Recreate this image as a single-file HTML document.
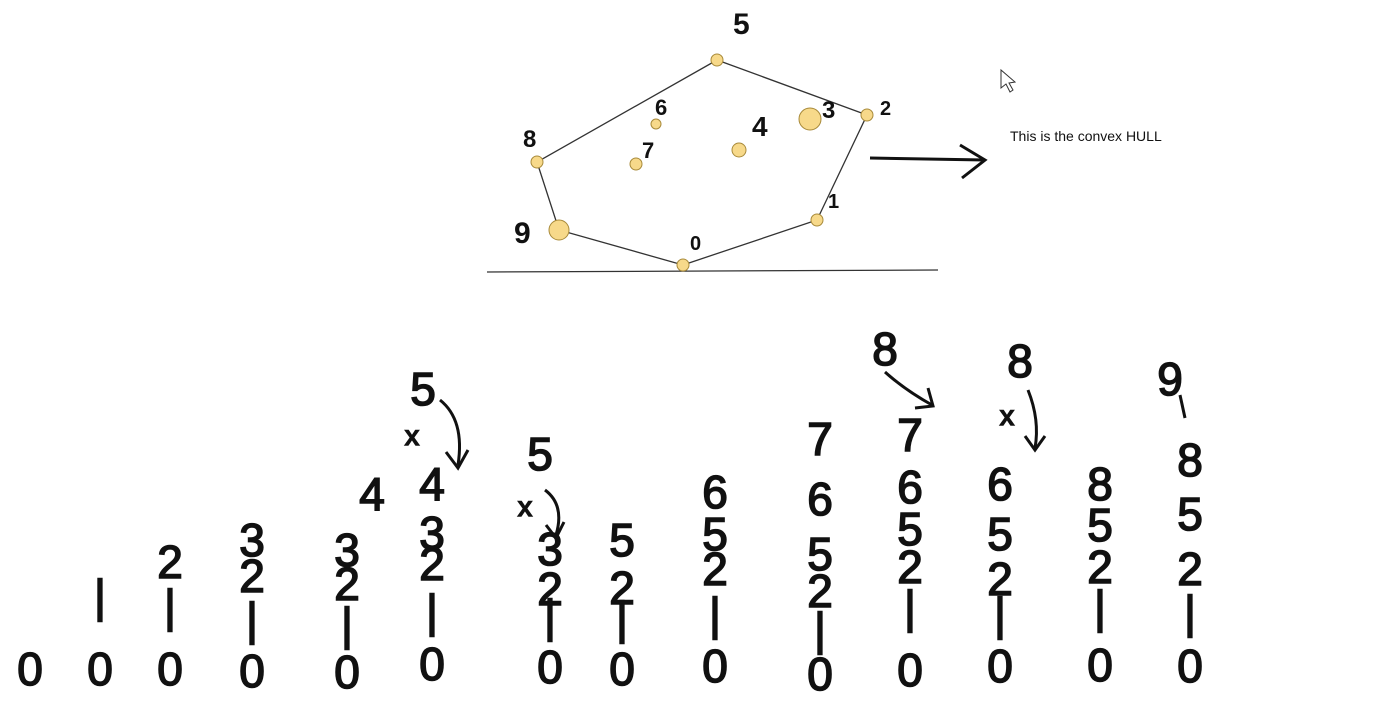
<!DOCTYPE html>
<html><head><meta charset="utf-8"><style>
html,body{margin:0;padding:0;background:#fff;width:1380px;height:720px;overflow:hidden}
svg{display:block}
text{font-family:"Liberation Sans",sans-serif;fill:#111}
#stacks text{stroke:#111;stroke-width:1.6}
</style></head><body>
<svg width="1380" height="720" viewBox="0 0 1380 720">
<g stroke="#333" stroke-width="1.3" fill="none">
  <polyline points="683,265 817,220 867,115 717,60 537,162 559,230 683,265"/>
  <line x1="487" y1="272" x2="938" y2="270"/>
</g>
<g fill="#f7d98a" stroke="#a88a3a" stroke-width="1">
  <circle cx="683" cy="265" r="6"/>
  <circle cx="817" cy="220" r="6"/>
  <circle cx="867" cy="115" r="6"/>
  <circle cx="810" cy="119" r="11"/>
  <circle cx="739" cy="150" r="7"/>
  <circle cx="717" cy="60" r="6"/>
  <circle cx="656" cy="124" r="5"/>
  <circle cx="636" cy="164" r="6"/>
  <circle cx="537" cy="162" r="6"/>
  <circle cx="559" cy="230" r="10"/>
</g>
<g font-weight="bold">
  <text x="690" y="250" font-size="20">0</text>
  <text x="828" y="208" font-size="20">1</text>
  <text x="880" y="115" font-size="20">2</text>
  <text x="822" y="118" font-size="24">3</text>
  <text x="752" y="136" font-size="28">4</text>
  <text x="733" y="34" font-size="30">5</text>
  <text x="655" y="115" font-size="22">6</text>
  <text x="642" y="158" font-size="22">7</text>
  <text x="523" y="147" font-size="24">8</text>
  <text x="514" y="243" font-size="30">9</text>
</g>
<g stroke="#111" stroke-width="3" fill="none">
  <line x1="870" y1="158" x2="985" y2="160"/>
  <polyline points="960,145 985,160 962,178"/>
</g>
<text x="1010" y="141" font-size="14">This is the convex HULL</text>
<path d="M1001,70 L1001,88 L1006,84 L1010,92 L1013,90 L1009,83 L1015,82 Z" fill="#fff" stroke="#333" stroke-width="1"/>
<g font-size="46" text-anchor="middle" id="stacks"></g>
<g stroke="#111" stroke-width="3" fill="none">
  <path d="M440,400 Q465,420 458,465"/><polyline points="446,452 458,468 468,450"/>
  <path d="M545,490 Q565,505 556,535"/><polyline points="546,525 556,538 564,522"/>
  <path d="M885,372 Q905,390 932,405"/><polyline points="915,408 933,406 928,388"/>
  <path d="M1028,390 Q1040,420 1035,448"/><polyline points="1025,436 1035,450 1045,436"/>
  <line x1="1180" y1="395" x2="1185" y2="418"/>
</g>
<script>
const cols=[
 [30,[["0",685]]],
 [100,[["0",685],["|",612]]],
 [170,[["0",685],["|",622],["2",578]]],
 [252,[["0",687],["|",635],["2",592],["3",556]]],
 [347,[["0",688],["|",640],["2",600],["3",566]]],
 [432,[["0",680],["|",627],["2",580],["3",549],["4",500]]],
 [550,[["0",683],["|",632],["2",605],["3",565]]],
 [622,[["0",685],["|",634],["2",604],["5",556]]],
 [715,[["0",682],["|",630],["2",585],["5",550],["6",508]]],
 [820,[["0",690],["|",645],["2",607],["5",570],["6",515],["7",455]]],
 [910,[["0",686],["|",623],["2",583],["5",545],["6",503],["7",451]]],
 [1000,[["0",682],["|",630],["2",595],["5",550],["6",500]]],
 [1100,[["0",681],["|",623],["2",583],["5",541],["8",500]]],
 [1190,[["0",682],["|",628],["2",585],["5",530],["8",476]]]
];
const extras=[["4",372,510],["5",423,405],["x",412,445],["5",540,470],["x",525,516],["8",885,365],["8",1020,377],["x",1007,425],["9",1170,395]];
const g=document.getElementById('stacks');
const NS='http://www.w3.org/2000/svg';
cols.forEach(c=>{c[1].forEach(d=>{const t=document.createElementNS(NS,'text');


t.setAttribute('x',c[0]);t.setAttribute('y',d[1]);t.textContent=d[0];g.appendChild(t);});});
extras.forEach(d=>{const t=document.createElementNS(NS,'text');


t.setAttribute('x',d[1]);t.setAttribute('y',d[2]);if(d[0]==='x')t.setAttribute('font-size','28');t.textContent=d[0];g.appendChild(t);});
</script>
</svg>
</body></html>
